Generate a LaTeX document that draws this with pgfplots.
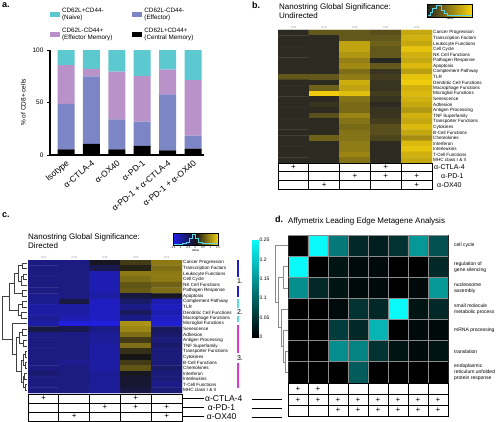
\documentclass[border=0pt]{standalone}
\usepackage{fontspec}
\setmainfont{Liberation Sans}
\usepackage{pgfplots}
\pgfplotsset{compat=1.18}
\newcommand\fs[1]{\fontsize{#1}{#1}\selectfont}
\definecolor{naive}{RGB}{92,200,208}
\definecolor{eff}{RGB}{124,134,198}
\definecolor{em}{RGB}{184,146,200}
\definecolor{cmem}{RGB}{0,0,0}
\definecolor{hcyan}{RGB}{90,215,230}
\pgfplotsset{
  colormap={bmap}{rgb255=(34,34,34) rgb255=(250,212,10)},
  colormap={cmap}{rgb255=(32,32,235) rgb255=(22,22,22) rgb255=(245,210,20)},
  colormap={dmap}{rgb255=(0,0,0) rgb255=(10,250,250)},
}
\begin{document}
\begin{tikzpicture}
\useasboundingbox (0,0) rectangle (500pt,-422pt);
% ================= Panel a =================
\begin{axis}[
  at={(50pt,-155pt)}, anchor=south west,
  scale only axis, width=154pt, height=105pt,
  ymin=0, ymax=100, xmin=-0.63, xmax=5.43,
  ybar stacked, bar width=17pt,
  axis x line*=bottom, axis y line*=left,
  axis line style={line width=1.1pt},
  ytick={0,50,100}, xtick={0,...,5},
  xticklabels={Isotype,α-CTLA-4,α-OX40,α-PD-1,α-PD-1 + α-CTLA-4,α-PD-1 + α-OX40},
  x tick label style={rotate=40, anchor=north east, font=\fs{8.5}, inner sep=1pt},
  y tick label style={font=\fs{6.5}},
  xtick style={draw=none}, ytick style={line width=1pt, black},
  major tick length=3pt, tick align=outside,
  ylabel={\% of CD8+ cells}, ylabel style={font=\fs{6.5}},
  /pgf/number format/assume math mode=true,
  legend columns=2,
  legend style={at={(-0.02,1.44)}, anchor=north west, draw=none, fill=none,
    font=\fontsize{6.3}{7.2}\selectfont, cells={align=left, anchor=west},
    /tikz/every even column/.append style={column sep=18pt}, row sep=3pt},
  legend image code/.code={\fill[#1] (0pt,-2.5pt) rectangle (10pt,2.5pt);},
]
\addlegendimage{fill=naive, draw=none}
\addlegendentry{CD62L+CD44-\\(Naive)}
\addlegendimage{fill=eff, draw=none}
\addlegendentry{CD62L-CD44-\\(Effector)}
\addlegendimage{fill=em, draw=none}
\addlegendentry{CD62L-CD44+\\(Effector Memory)}
\addlegendimage{fill=cmem, draw=none}
\addlegendentry{CD62L+CD44+\\(Central Memory)}
\addplot[fill=cmem, draw=none] coordinates {(0,5.4) (1,10.5) (2,5.4) (3,8.6) (4,4.4) (5,6.0)};
\addplot[fill=eff, draw=none] coordinates {(0,43.2) (1,64.5) (2,28.6) (3,23.1) (4,53.4) (5,12.4)};
\addplot[fill=em, draw=none] coordinates {(0,37.1) (1,7.0) (2,45.4) (3,43.5) (4,23.5) (5,53.0)};
\addplot[fill=naive, draw=none] coordinates {(0,14.3) (1,18.0) (2,20.6) (3,24.8) (4,18.7) (5,28.6)};
\end{axis}
\node[anchor=north west, font=\bfseries\fs{9}, inner sep=0pt] at (2pt,-2pt) {a.};

% ================= Panel b =================
\node[anchor=north west, font=\bfseries\fs{9}, inner sep=0pt] at (252pt,-2pt) {b.};
\node[anchor=north west, align=left, font=\fontsize{8}{9}\selectfont, inner sep=0pt] at (279pt,-4pt) {Nanostring Global Significance:\\Undirected};
\begin{axis}[
  at={(278pt,-30pt)}, anchor=north west,
  scale only axis, width=154pt, height=133pt,
  xmin=-0.5, xmax=4.5, ymin=-0.5, ymax=23.5, y dir=reverse,
  colormap name=bmap,
  point meta min=0, point meta max=1,
  axis line style={draw=none}, major tick length=0pt,
  xtick={0,...,4}, xticklabels={n=4,n=4,n=4,n=4,n=4}, xticklabel pos=upper,
  x tick label style={font=\fs{3}, text=gray, inner sep=1pt},
  ytick={0,...,23},
  yticklabels={Cancer Progression,Transcription Factors,Leukocyte Functions,Cell Cycle,NK Cell Functions,Pathogen Response,Apoptosis,Complement Pathway,TLR,Dendritic Cell Functions,Macrophage Functions,Microglial Functions,Senescence,Adhesion,Antigen Processing,TNF Superfamily,Transporter Functions,Cytokines,B-Cell Functions,Chemokines,Interferon,Interleukins,T-Cell Functions,MHC class I \& II},
  yticklabel pos=right, y tick label style={font=\fs{4.6}, inner sep=1pt},
]
\addplot[matrix plot*, mesh/cols=5, point meta=explicit] coordinates {
(0,0)[.05] (1,0)[.30] (2,0)[.30] (3,0)[.25] (4,0)[.75]
(0,1)[.05] (1,1)[.05] (2,1)[.30] (3,1)[.30] (4,1)[.80]
(0,2)[.05] (1,2)[.05] (2,2)[.72] (3,2)[.35] (4,2)[.75]
(0,3)[.05] (1,3)[.05] (2,3)[.72] (3,3)[.30] (4,3)[.90]
(0,4)[.05] (1,4)[.05] (2,4)[.65] (3,4)[.30] (4,4)[.80]
(0,5)[.05] (1,5)[.05] (2,5)[.52] (3,5)[.02] (4,5)[.75]
(0,6)[.05] (1,6)[.05] (2,6)[.58] (3,6)[.30] (4,6)[.85]
(0,7)[.05] (1,7)[.05] (2,7)[.42] (3,7)[.10] (4,7)[.70]
(0,8)[.30] (1,8)[.30] (2,8)[.50] (3,8)[.15] (4,8)[.90]
(0,9)[.05] (1,9)[.05] (2,9)[.78] (3,9)[.10] (4,9)[.95]
(0,10)[.05] (1,10)[.35] (2,10)[.72] (3,10)[.10] (4,10)[.80]
(0,11)[.05] (1,11)[.95] (2,11)[.88] (3,11)[.15] (4,11)[.85]
(0,12)[.05] (1,12)[.05] (2,12)[.45] (3,12)[.10] (4,12)[.80]
(0,13)[.05] (1,13)[.10] (2,13)[.40] (3,13)[.05] (4,13)[.75]
(0,14)[.05] (1,14)[.05] (2,14)[.40] (3,14)[.10] (4,14)[.65]
(0,15)[.05] (1,15)[.25] (2,15)[.55] (3,15)[.10] (4,15)[.80]
(0,16)[.05] (1,16)[.05] (2,16)[.45] (3,16)[.15] (4,16)[.75]
(0,17)[.05] (1,17)[.05] (2,17)[.40] (3,17)[.25] (4,17)[.85]
(0,18)[.05] (1,18)[.05] (2,18)[.45] (3,18)[.25] (4,18)[.75]
(0,19)[.05] (1,19)[.35] (2,19)[.45] (3,19)[.20] (4,19)[.60]
(0,20)[.05] (1,20)[.05] (2,20)[.50] (3,20)[.05] (4,20)[.85]
(0,21)[.05] (1,21)[.05] (2,21)[.50] (3,21)[.05] (4,21)[.90]
(0,22)[.05] (1,22)[.05] (2,22)[.55] (3,22)[.05] (4,22)[.80]
(0,23)[.05] (1,23)[.05] (2,23)[.45] (3,23)[.05] (4,23)[.75]
};
\end{axis}
% key b
\begin{axis}[at={(427.3pt,-4pt)}, anchor=north west, scale only axis, width=45pt, height=13pt,
  xmin=0, xmax=1, ymin=0, ymax=1, colormap name=bmap, point meta min=0, point meta max=1,
  xtick=\empty, ytick=\empty, axis on top, axis line style={line width=0.5pt},
  xlabel={Value}, xlabel style={font=\fs{3}, inner sep=0.5pt}]
\addplot[surf, shader=interp, mesh/cols=2, point meta=explicit] coordinates {(0,0)[0] (1,0)[1] (0,1)[0] (1,1)[1]};
\addplot[hcyan, line width=0.5pt, const plot] coordinates {(0,0.12) (0.06,0.35) (0.12,0.7) (0.2,0.88) (0.3,0.55) (0.37,0.3) (0.45,0.15) (0.6,0.1) (1,0.1)};
\end{axis}
\begin{scope}[x=1pt, y=-1pt]
\draw[line width=0.7pt] (278,163) rectangle (432,189);
\foreach \y in {171.7,180.3} \draw[line width=0.7pt] (278,\y) -- (432,\y);
\foreach \x in {308.8,339.6,370.4,401.2} \draw[line width=0.7pt] (\x,163) -- (\x,189);
\foreach \x/\y in {293.4/167.3,385.8/167.3,355/176,385.8/176,416.6/176,324.2/184.7,416.6/184.7}
  \node[font=\fs{8}, inner sep=0pt] at (\x,\y) {+};
\node[anchor=west, font=\fs{7}, inner sep=0pt] at (434,167.3) {α-CTLA-4};
\node[anchor=west, font=\fs{7}, inner sep=0pt] at (441,176) {α-PD-1};
\node[anchor=west, font=\fs{7}, inner sep=0pt] at (437,184.7) {α-OX40};
\end{scope}

% ================= Panel c =================
\node[anchor=north west, font=\bfseries\fs{9}, inner sep=0pt] at (2pt,-212pt) {c.};
\node[anchor=north west, align=left, font=\fontsize{8}{9}\selectfont, inner sep=0pt] at (28pt,-234pt) {Nanostring Global Significance:\\Directed};
\begin{axis}[
  at={(28pt,-260pt)}, anchor=north west,
  scale only axis, width=154pt, height=133pt,
  xmin=-0.5, xmax=4.5, ymin=-0.5, ymax=23.5, y dir=reverse,
  colormap name=cmap,
  point meta min=-1.5, point meta max=1.5,
  axis line style={draw=none}, major tick length=0pt,
  xtick={0,...,4}, xticklabels={n=4,n=4,n=4,n=4,n=4}, xticklabel pos=upper,
  x tick label style={font=\fs{3}, text=gray, inner sep=1pt},
  ytick={0,...,23},
  yticklabels={Cancer Progression,Transcription Factors,Leukocyte Functions,Cell Cycle,NK Cell Functions,Pathogen Response,Apoptosis,Complement Pathway,TLR,Dendritic Cell Functions,Macrophage Functions,Microglial Functions,Senescence,Adhesion,Antigen Processing,TNF Superfamily,Transporter Functions,Cytokines,B-Cell Functions,Chemokines,Interferon,Interleukins,T-Cell Functions,MHC class I \& II},
  yticklabel pos=right, y tick label style={font=\fs{4.6}, inner sep=1pt},
]
\addplot[matrix plot*, mesh/cols=5, point meta=explicit] coordinates {
(0,0)[-.75] (1,0)[-.75] (2,0)[-.1] (3,0)[.3] (4,0)[.8]
(0,1)[-.75] (1,1)[-.75] (2,1)[-.4] (3,1)[.1] (4,1)[.7]
(0,2)[-.75] (1,2)[-.75] (2,2)[-1.1] (3,2)[.8] (4,2)[.8]
(0,3)[-.75] (1,3)[-.75] (2,3)[-1.1] (3,3)[.7] (4,3)[.8]
(0,4)[-.75] (1,4)[-.75] (2,4)[-1.1] (3,4)[.5] (4,4)[.6]
(0,5)[-.75] (1,5)[-.75] (2,5)[-1.1] (3,5)[.55] (4,5)[.7]
(0,6)[-.85] (1,6)[-.75] (2,6)[-1.0] (3,6)[-.3] (4,6)[-.1]
(0,7)[-.85] (1,7)[-.3] (2,7)[-1.2] (3,7)[-.6] (4,7)[-1.1]
(0,8)[-1.0] (1,8)[-1.0] (2,8)[-1.2] (3,8)[-.8] (4,8)[-1.2]
(0,9)[-1.0] (1,9)[-1.0] (2,9)[-1.2] (3,9)[-.5] (4,9)[-1.1]
(0,10)[-.9] (1,10)[-1.1] (2,10)[-1.2] (3,10)[-.8] (4,10)[-1.2]
(0,11)[-1.0] (1,11)[-1.4] (2,11)[-1.4] (3,11)[1.0] (4,11)[-1.3]
(0,12)[-.3] (1,12)[-.4] (2,12)[-.8] (3,12)[.9] (4,12)[-.5]
(0,13)[-.75] (1,13)[-.75] (2,13)[-.9] (3,13)[.7] (4,13)[-.6]
(0,14)[-.75] (1,14)[-.75] (2,14)[-.9] (3,14)[.3] (4,14)[-.7]
(0,15)[-.75] (1,15)[-.75] (2,15)[-1.0] (3,15)[.7] (4,15)[-.6]
(0,16)[-.75] (1,16)[-.75] (2,16)[-1.0] (3,16)[.2] (4,16)[-.7]
(0,17)[-.75] (1,17)[-.75] (2,17)[-1.0] (3,17)[.0] (4,17)[-.7]
(0,18)[-.75] (1,18)[-.85] (2,18)[-1.0] (3,18)[.3] (4,18)[-.7]
(0,19)[-.75] (1,19)[-.75] (2,19)[-1.0] (3,19)[.5] (4,19)[-.6]
(0,20)[-.65] (1,20)[-.75] (2,20)[-.9] (3,20)[-.1] (4,20)[-.7]
(0,21)[-.75] (1,21)[-.75] (2,21)[-.9] (3,21)[-.2] (4,21)[-.7]
(0,22)[-.75] (1,22)[-.75] (2,22)[-.9] (3,22)[-.2] (4,22)[-.8]
(0,23)[-.75] (1,23)[-.75] (2,23)[-.9] (3,23)[-.3] (4,23)[-.7]
};
\end{axis}
% key c
\begin{axis}[at={(173pt,-233.5pt)}, anchor=north west, scale only axis, width=45pt, height=12pt,
  xmin=-1.5, xmax=1.5, ymin=0, ymax=1, colormap name=cmap, point meta min=-1.5, point meta max=1.5,
  ytick=\empty, axis on top, axis line style={line width=0.5pt},
  xtick={-1.5,-1,-0.5,0,0.5,1,1.5}, xticklabels={-1.5,-1,-0.5,0,0.5,1,1.5},
  x tick label style={font=\fs{2.8}, inner sep=0.5pt}, major tick length=0pt,
  xlabel={Value}, xlabel style={font=\fs{3}, inner sep=0.5pt}]
\addplot[surf, shader=interp, mesh/cols=3, point meta=explicit] coordinates {(-1.5,0)[-1.5] (0,0)[0] (1.5,0)[1.5] (-1.5,1)[-1.5] (0,1)[0] (1.5,1)[1.5]};
\addplot[hcyan, line width=0.5pt, const plot] coordinates {(-1.5,0.1) (-0.9,0.15) (-0.6,0.3) (-0.4,0.6) (-0.25,0.95) (0,0.6) (0.15,0.3) (0.45,0.15) (1.5,0.1)};
\end{axis}
% dendrogram c
\begin{axis}[at={(0pt,-260pt)}, anchor=north west, scale only axis, width=28pt, height=133pt,
  hide axis, xmin=0, xmax=28, ymin=-0.5, ymax=23.5, y dir=reverse, clip=false]
\addplot[black!75, line width=0.5pt] coordinates {(27,0)(22,0)(22,1)(27,1)};
\addplot[black!75, line width=0.5pt] coordinates {(27,2)(23,2)(23,3)(27,3)};
\addplot[black!75, line width=0.5pt] coordinates {(23,2.5)(21,2.5)(21,4)(27,4)};
\addplot[black!75, line width=0.5pt] coordinates {(27,5)(22,5)(22,6)(27,6)};
\addplot[black!75, line width=0.5pt] coordinates {(22,0.5)(18,0.5)(18,3.25)(21,3.25)};
\addplot[black!75, line width=0.5pt] coordinates {(18,1.875)(14,1.875)(14,5.5)(22,5.5)};
\addplot[black!75, line width=0.5pt] coordinates {(27,7)(22,7)(22,8)(27,8)};
\addplot[black!75, line width=0.5pt] coordinates {(27,9)(21,9)(21,10)(27,10)};
\addplot[black!75, line width=0.5pt] coordinates {(22,7.5)(18,7.5)(18,9.5)(21,9.5)};
\addplot[black!75, line width=0.5pt] coordinates {(14,3.6875)(9,3.6875)(9,8.5)(18,8.5)};
\addplot[black!75, line width=0.5pt] coordinates {(27,12)(22,12)(22,13)(27,13)};
\addplot[black!75, line width=0.5pt] coordinates {(27,14)(23,14)(23,15)(27,15)};
\addplot[black!75, line width=0.5pt] coordinates {(22,12.5)(19,12.5)(19,14.5)(23,14.5)};
\addplot[black!75, line width=0.5pt] coordinates {(27,16)(25,16)(25,17)(27,17)};
\addplot[black!75, line width=0.5pt] coordinates {(27,18)(25,18)(25,19)(27,19)};
\addplot[black!75, line width=0.5pt] coordinates {(25,16.5)(23,16.5)(23,18.5)(25,18.5)};
\addplot[black!75, line width=0.5pt] coordinates {(27,20)(24,20)(24,21)(27,21)};
\addplot[black!75, line width=0.5pt] coordinates {(27,22)(25,22)(25,23)(27,23)};
\addplot[black!75, line width=0.5pt] coordinates {(24,20.5)(23.5,20.5)(23.5,22.5)(25,22.5)};
\addplot[black!75, line width=0.5pt] coordinates {(23,17.5)(21,17.5)(21,21.5)(23.5,21.5)};
\addplot[black!75, line width=0.5pt] coordinates {(19,13.5)(16,13.5)(16,19.5)(21,19.5)};
\addplot[black!75, line width=0.5pt] coordinates {(27,11)(12,11)(12,16.5)(16,16.5)};
\addplot[black!75, line width=0.5pt] coordinates {(9,6.09)(2,6.09)(2,13.75)(12,13.75)};
\end{axis}
\begin{scope}[x=1pt, y=-1pt]
% side bars c
\draw[color={rgb,255:red,30;green,30;blue,200}, line width=1.3pt] (238,260)--(238,277) (238,286)--(238,297);
\draw[color={rgb,255:red,90;green,220;blue,235}, line width=1.3pt] (238,299)--(238,308) (238,316)--(238,322);
\draw[color={rgb,255:red,215;green,60;blue,215}, line width=1.3pt] (238,325)--(238,353) (238,363)--(238,388);
\node[font=\fs{7}, inner sep=0pt] at (240,281.5) {1.};
\node[font=\fs{7}, inner sep=0pt] at (240,312) {2.};
\node[font=\fs{7}, inner sep=0pt] at (240,358) {3.};
% table c
\draw[line width=0.7pt] (28,394) rectangle (182,421);
\foreach \y in {403,412} \draw[line width=0.7pt] (28,\y) -- (182,\y);
\foreach \x in {58.8,89.6,120.4,151.2} \draw[line width=0.7pt] (\x,394) -- (\x,421);
\foreach \x/\y in {43.4/398.5,135.8/398.5,105/407.5,135.8/407.5,166.6/407.5,74.2/416.5,166.6/416.5}
  \node[font=\fs{8}, inner sep=0pt] at (\x,\y) {+};
\foreach \y in {398.5,407.5,416.5} \draw[line width=0.6pt] (183,\y) -- (204,\y);
\node[anchor=west, font=\fs{8.5}, inner sep=0pt] at (205,398.5) {α-CTLA-4};
\node[anchor=west, font=\fs{8.5}, inner sep=0pt] at (207.7,407.5) {α-PD-1};
\node[anchor=west, font=\fs{8.5}, inner sep=0pt] at (206.7,416.5) {α-OX40};
\end{scope}

% ================= Panel d =================
\node[anchor=north west, font=\bfseries\fs{9}, inner sep=0pt] at (275pt,-216pt) {d.};
\node[anchor=north west, font=\fs{8}, inner sep=0pt] at (288pt,-218pt) {Affymetrix Leading Edge Metagene Analysis};
\begin{axis}[
  at={(288pt,-235pt)}, anchor=north west,
  scale only axis, width=160pt, height=148pt,
  xmin=-0.5, xmax=7.5, ymin=-0.5, ymax=6.5, y dir=reverse,
  colormap name=dmap,
  point meta min=0, point meta max=0.25,
  axis on top, axis line style={draw=black!85, line width=0.6pt},
  major tick length=0pt,
  xtick={-0.5,0.5,...,7.5}, xticklabels={}, xmajorgrids,
  ytick={0,...,6},
  yticklabels={cell cycle,regulation of\\gene silencing,nucleosome\\assembly,small molecule\\metabolic process,mRNA processing,translation,endoplasmic\\reticulum unfolded\\protein response},
  yticklabel pos=right,
  y tick label style={font=\fontsize{5}{6}\selectfont, align=left, anchor=west, inner sep=1pt, xshift=5pt},
  extra y ticks={-0.5,0.5,...,6.5}, extra y tick labels={},
  extra y tick style={ymajorgrids=true},
  major grid style={color=black!45, line width=0.8pt},
]
\addplot[matrix plot*, mesh/cols=8, point meta=explicit] coordinates {
(0,0)[0] (1,0)[.25] (2,0)[.12] (3,0)[.04] (4,0)[.03] (5,0)[.05] (6,0)[.15] (7,0)[.08]
(0,1)[.25] (1,1)[0] (2,1)[.02] (3,1)[.01] (4,1)[.01] (5,1)[0] (6,1)[0] (7,1)[.04]
(0,2)[.14] (1,2)[.04] (2,2)[.02] (3,2)[.01] (4,2)[.01] (5,2)[0] (6,2)[.01] (7,2)[.15]
(0,3)[0] (1,3)[0] (2,3)[.01] (3,3)[.05] (4,3)[.04] (5,3)[.25] (6,3)[.02] (7,3)[.04]
(0,4)[0] (1,4)[0] (2,4)[.06] (3,4)[.04] (4,4)[.18] (5,4)[0] (6,4)[.01] (7,4)[.01]
(0,5)[0] (1,5)[0] (2,5)[.14] (3,5)[.13] (4,5)[.05] (5,5)[.02] (6,5)[.01] (7,5)[.02]
(0,6)[0] (1,6)[0] (2,6)[0] (3,6)[.09] (4,6)[0] (5,6)[0] (6,6)[0] (7,6)[0]
};
\end{axis}
% colour bar d
\begin{axis}[at={(252pt,-240pt)}, anchor=north west, scale only axis, width=6pt, height=97pt,
  xmin=0, xmax=1, ymin=0, ymax=0.25, colormap name=dmap, point meta min=0, point meta max=0.25,
  xtick=\empty, axis line style={draw=none}, major tick length=0pt,
  ytick={0,0.05,0.1,0.15,0.2,0.25}, yticklabels={0,0.05,0.1,0.15,0.2,0.25},
  yticklabel pos=right, y tick label style={font=\fs{5}, inner sep=1.5pt}]
\addplot[surf, shader=interp, mesh/cols=2, point meta=explicit] coordinates {(0,0)[0] (1,0)[0] (0,0.25)[0.25] (1,0.25)[0.25]};
\end{axis}
% dendrogram d
\begin{axis}[at={(268pt,-235pt)}, anchor=north west, scale only axis, width=20pt, height=148pt,
  hide axis, xmin=268, xmax=288, ymin=-0.5, ymax=6.5, y dir=reverse, clip=false]
\addplot[black!45, line width=0.7pt] coordinates {(288,1)(283,1)(283,2)(288,2)};
\addplot[black!45, line width=0.7pt] coordinates {(288,5)(285,5)(285,6)(288,6)};
\addplot[black!45, line width=0.7pt] coordinates {(288,4)(283,4)(283,5.5)(285,5.5)};
\addplot[black!45, line width=0.7pt] coordinates {(288,3)(281,3)(281,4.75)(283,4.75)};
\addplot[black!45, line width=0.7pt] coordinates {(283,1.5)(278,1.5)(278,3.875)(281,3.875)};
\addplot[black!45, line width=0.7pt] coordinates {(288,0)(275,0)(275,2.6875)(278,2.6875)};
\end{axis}
\begin{scope}[x=1pt, y=-1pt]
\draw[line width=0.7pt] (288,383.3) rectangle (448,416);
\foreach \y in {394.2,405.1} \draw[line width=0.7pt] (288,\y) -- (448,\y);
\foreach \x in {308,328,348,368,388,408,428} \draw[line width=0.7pt] (\x,383.3) -- (\x,416);
\foreach \x/\y in {298/388.8,318/388.8,298/399.7,318/399.7,338/399.7,358/399.7,378/399.7,398/399.7,418/399.7,438/399.7,338/410.6,358/410.6,378/410.6,398/410.6,418/410.6,438/410.6}
  \node[font=\fs{8}, inner sep=0pt] at (\x,\y) {+};
\foreach \y in {399.5,408.5,417} \draw[line width=0.6pt] (252,\y) -- (282,\y);
\end{scope}
\end{tikzpicture}
\end{document}
